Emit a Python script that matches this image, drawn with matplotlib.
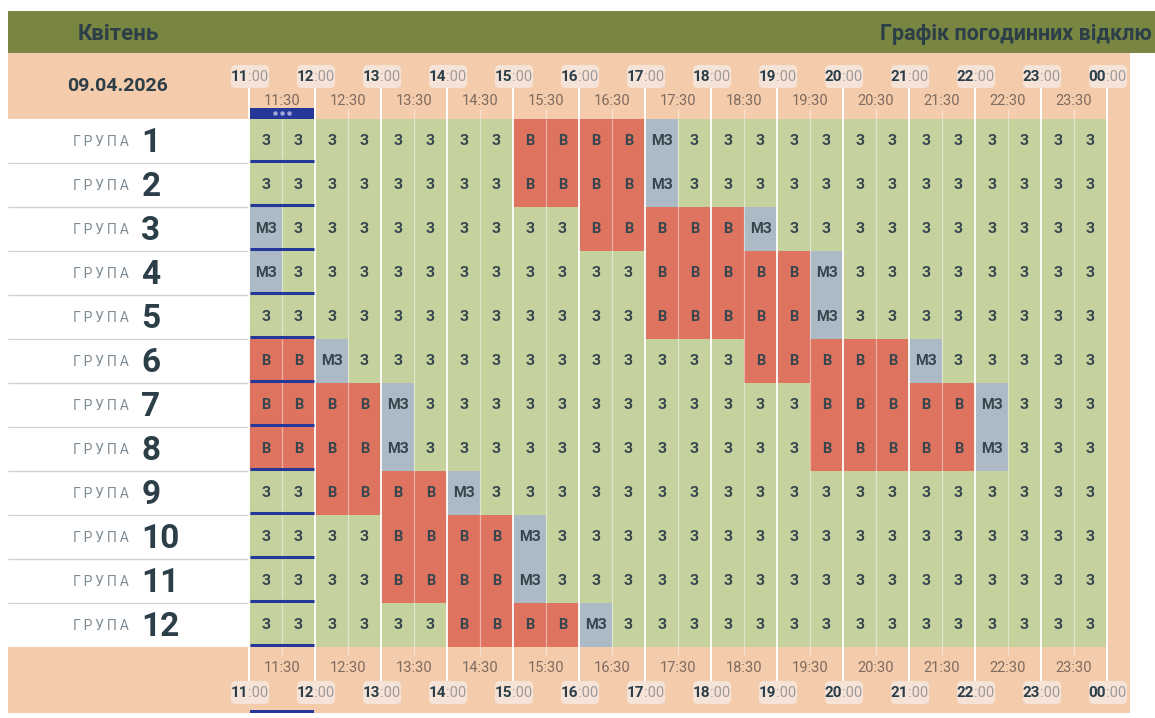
import matplotlib
matplotlib.use("Agg")
import matplotlib.pyplot as plt
from matplotlib.colors import ListedColormap
from matplotlib.patches import Rectangle, FancyBboxPatch
import numpy as np

month = "Квітень"
title = "Графік погодинних відклю"
date_label = "09.04.2026"
group_word = "ГРУПА"
groups = ["1", "2", "3", "4", "5", "6", "7", "8", "9", "10", "11", "12"]
hour_labels = ["11", "12", "13", "14", "15", "16", "17", "18", "19", "20", "21", "22", "23", "00"]
half_labels = ["11:30", "12:30", "13:30", "14:30", "15:30", "16:30", "17:30",
               "18:30", "19:30", "20:30", "21:30", "22:30", "23:30"]
# one string per group, one sign per half hour: z = З, v = В, m = МЗ
schedule = [
    "zzzzzzzzvvvvmzzzzzzzzzzzzz",
    "zzzzzzzzvvvvmzzzzzzzzzzzzz",
    "mzzzzzzzzzvvvvvmzzzzzzzzzz",
    "mzzzzzzzzzzzvvvvvmzzzzzzzz",
    "zzzzzzzzzzzzvvvvvmzzzzzzzz",
    "vvmzzzzzzzzzzzzvvvvvmzzzzz",
    "vvvvmzzzzzzzzzzzzvvvvvmzzz",
    "vvvvmzzzzzzzzzzzzvvvvvmzzz",
    "zzvvvvmzzzzzzzzzzzzzzzzzzz",
    "zzzzvvvvmzzzzzzzzzzzzzzzzz",
    "zzzzvvvvmzzzzzzzzzzzzzzzzz",
    "zzzzzzvvvvmzzzzzzzzzzzzzzz",
]
cell_text = {"z": "З", "v": "В", "m": "МЗ"}
cell_code = {"z": 0, "v": 1, "m": 2}

W, H = 1155, 718
GREEN, RED, GREY = "#C5D29E", "#DE7360", "#ABBAC4"
PEACH, OLIVE, INK, BLUE = "#F5CCAB", "#788642", "#2C3E48", "#25389A"
plt.rcParams["font.family"] = ["Roboto", "DejaVu Sans"]
small_size = 10.5

fig = plt.figure(figsize=(W / 100, H / 100), dpi=100, facecolor="white")
bg = fig.add_axes([0, 0, 1, 1])
bg.set_xlim(0, W)
bg.set_ylim(H, 0)
bg.axis("off")

GX0, GX1, GY0, GY1 = 249.0, 1107.0, 119.0, 647.0
bg.add_patch(Rectangle((8, 53), 1122, 66, fc=PEACH, ec="none"))
bg.add_patch(Rectangle((8, 646.5), 1122, 66.5, fc=PEACH, ec="none"))
bg.add_patch(Rectangle((1107, 119), 23, 528, fc=PEACH, ec="none"))
bg.add_patch(Rectangle((8, 11), 1147, 42, fc=OLIVE, ec="none"))
bg.text(78, 31.5, month, fontsize=16, fontweight="bold", color=INK, ha="left", va="center_baseline")
bg.text(880, 31.5, title, fontsize=15.5, fontweight="bold", color=INK, ha="left", va="center_baseline")
bg.text(118, 84, date_label, fontsize=14, fontweight="bold", color=INK, ha="center", va="center_baseline")

row_h = (GY1 - GY0) / len(groups)
for i, g in enumerate(groups):
    yc = GY0 + row_h * (i + 0.5)
    bg.text(101, yc - 0.5, "\u2009".join(group_word), fontsize=10, color="#7C8A94",
            ha="center", va="center_baseline")
    bg.text(141.5, yc - 1.5, g, fontsize=24, fontweight="bold", color=INK, ha="left", va="center_baseline")
    if i:
        bg.plot([8, 250], [GY0 + row_h * i - 0.5] * 2, color="#CDD3D8", lw=1, solid_capstyle="butt")

ax = fig.add_axes([GX0 / W, 1 - GY1 / H, (GX1 - GX0) / W, (GY1 - GY0) / H])
ncol = len(schedule[0])
nrow = len(groups)
codes = np.array([[cell_code[c] for c in row] for row in schedule])
ax.pcolormesh(np.arange(ncol + 1), np.arange(nrow + 1), codes,
              cmap=ListedColormap([GREEN, RED, GREY]), vmin=0, vmax=2)
ax.set_xlim(0, ncol)
ax.set_ylim(nrow, 0)
ax.axis("off")
for r, row in enumerate(schedule):
    for c, ch in enumerate(row):
        ax.text(c + 0.5, r + 0.47, cell_text[ch], fontsize=10.5, fontweight="bold", color="#36464E",
                ha="center", va="center_baseline")
for c in range(ncol + 1):
    if c % 2 == 0:
        ax.plot([c, c], [0, nrow], color="white", lw=1.3, solid_capstyle="butt", zorder=3, clip_on=False)
    else:
        ax.plot([c, c], [0, nrow], color="white", lw=0.9, alpha=0.45, solid_capstyle="butt", zorder=3)

# current hour marker (first hour column)
for r in range(1, nrow + 1):
    ax.plot([0.03, 1.98], [r - 0.035, r - 0.035], color=BLUE, lw=2.2, solid_capstyle="butt", zorder=4)
bg.add_patch(Rectangle((250, 108), 64, 11, fc=BLUE, ec="none", zorder=3))
for dx in (-7, 0, 7):
    bg.plot(282 + dx, 112.5, "o", ms=3.2, color="#9FA9D8", mec="none", zorder=4)
bg.add_patch(Rectangle((250, 710), 64, 3, fc=BLUE, ec="none", zorder=3))

col_w = (GX1 - GX0) / ncol
for k, h in enumerate(hour_labels):
    x = GX0 + col_w * 2 * k
    bg.plot([x, x], [84, 119], color="white", lw=1.4, solid_capstyle="butt", zorder=2)
    bg.plot([x, x], [647, 684], color="white", lw=1.4, solid_capstyle="butt", zorder=2)
    for yc in (76, 692):
        bg.add_patch(FancyBboxPatch((x - 18, yc - 11), 38, 23, boxstyle="round,pad=0,rounding_size=5",
                                    fc="#F5E3D8", ec="none", zorder=3))
        bg.text(x - 1, yc - 0.5, h, fontsize=11, fontweight="bold", color=INK, ha="right",
                va="center_baseline", zorder=4)
        bg.text(x - 1, yc - 0.5, ":00", fontsize=small_size, color="#A09A98", ha="left",
                va="center_baseline", zorder=4)
for k, lab in enumerate(half_labels):
    x = GX0 + col_w * (2 * k + 1)
    bg.plot([x, x], [109, 119], color="#F7E3D3", lw=0.9, solid_capstyle="butt", zorder=2)
    bg.plot([x, x], [647, 655], color="#F7E3D3", lw=0.9, solid_capstyle="butt", zorder=2)
    bg.text(x, 99.5, lab, fontsize=small_size, color="#7D6A60", ha="center", va="center_baseline", zorder=4)
    bg.text(x, 666.5, lab, fontsize=small_size, color="#7D6A60", ha="center", va="center_baseline", zorder=4)

fig.savefig("out.png", dpi=100)
